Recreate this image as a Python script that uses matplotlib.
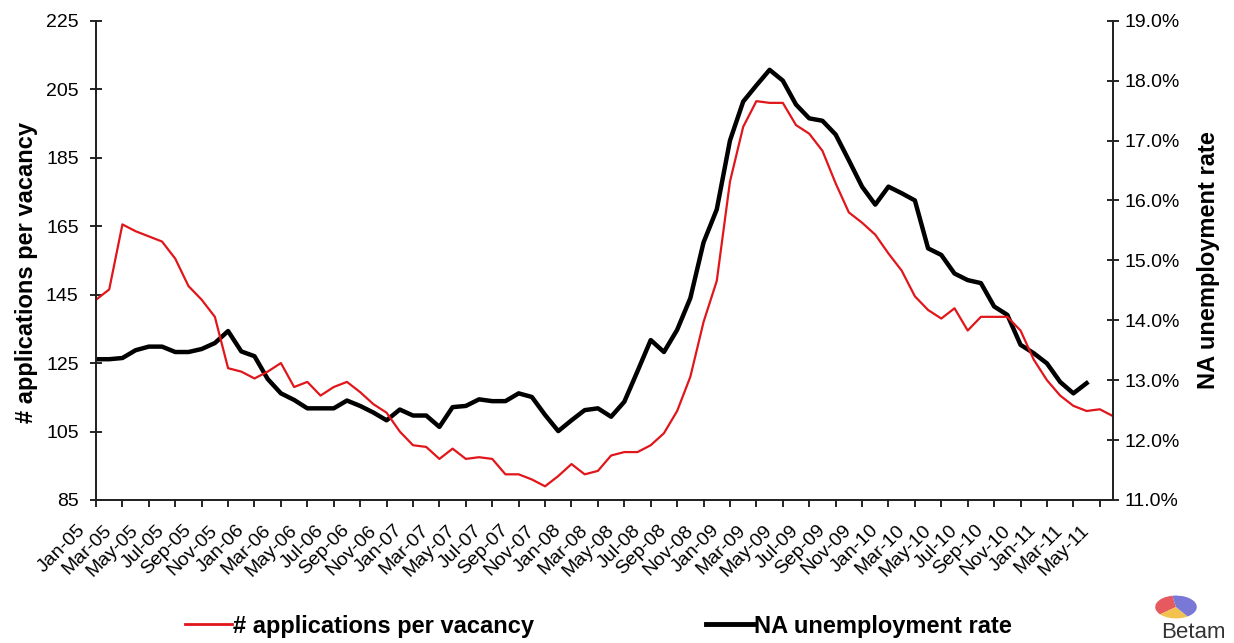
import matplotlib
matplotlib.use("Agg")
import matplotlib.pyplot as plt
import matplotlib.ticker as mticker
import matplotlib.transforms as mtransforms
from matplotlib.lines import Line2D

# ── Data (monthly Jan-05 .. Jun-11) ──────────────────────────────────────────

months = ["Jan", "Feb", "Mar", "Apr", "May", "Jun",
          "Jul", "Aug", "Sep", "Oct", "Nov", "Dec"]
month_labels = [f"{m}-{y:02d}" for y in range(5, 12) for m in months][:78]

applications = [
    143.5, 146.5, 165.5, 163.5, 162.0, 160.5, 155.5, 147.5, 143.5, 138.5,
    123.5, 122.5, 120.5, 122.5, 125.0, 118.0, 119.5, 115.5, 118.0, 119.5,
    116.5, 113.0, 110.5, 105.0, 101.0, 100.5, 97.0, 100.0, 97.0, 97.5,
    97.0, 92.5, 92.5, 91.0, 89.0, 92.0, 95.5, 92.5, 93.5, 98.0,
    99.0, 99.0, 101.0, 104.5, 111.0, 121.0, 137.0, 149.0, 178.0, 194.0,
    201.5, 201.0, 201.0, 194.5, 192.0, 187.0, 177.5, 169.0, 166.0, 162.5,
    157.0, 152.0, 144.5, 140.5, 138.0, 141.0, 134.5, 138.5, 138.5, 138.5,
    134.5, 126.0, 120.0, 115.5, 112.5, 111.0, 111.5, 109.5,
]

unemployment = [
    13.35, 13.35, 13.37, 13.50, 13.56, 13.56, 13.47, 13.47, 13.52, 13.62,
    13.82, 13.48, 13.40, 13.02, 12.78, 12.67, 12.53, 12.53, 12.53, 12.66,
    12.57, 12.46, 12.33, 12.51, 12.41, 12.41, 12.22, 12.55, 12.57, 12.68,
    12.65, 12.65, 12.78, 12.72, 12.42, 12.15, 12.33, 12.50, 12.53, 12.39,
    12.64, 13.15, 13.67, 13.47, 13.84, 14.37, 15.30, 15.85, 17.00, 17.65,
    17.92, 18.18, 18.00, 17.60, 17.37, 17.33, 17.10, 16.67, 16.23, 15.93,
    16.23, 16.12, 16.00, 15.20, 15.09, 14.78, 14.67, 14.62, 14.23, 14.09,
    13.59, 13.45, 13.28, 12.97, 12.78, 12.95,
]

left_ticks = [85, 105, 125, 145, 165, 185, 205, 225]
right_ticks = [11, 12, 13, 14, 15, 16, 17, 18, 19]

logo_shares = [1.0, 0.7, 1.3]
logo_colors = ["#e65a5f", "#f2c14e", "#7a78d6"]

# ── Figure ───────────────────────────────────────────────────────────────────

plt.rcParams["font.family"] = ["Liberation Sans", "DejaVu Sans"]
FS = 14
LFS = 17

fig = plt.figure(figsize=(12.34, 6.43), dpi=100)
W, H = 1234, 643
ax = fig.add_axes([96 / W, 1 - 500 / H, (1113 - 96) / W, (500 - 20.7) / H])
ax2 = ax.twinx()

x_red = list(range(len(applications)))
x_blk = list(range(len(unemployment)))

ax2.plot(x_blk, unemployment, color="black", lw=3.2, solid_joinstyle="round")
ax.plot(x_red, applications, color="#e0161b", lw=1.6)
ax.set_zorder(ax2.get_zorder() + 1)
ax.patch.set_visible(False)

ax.set_xlim(0, 77)
ax.set_ylim(85, 225)
ax2.set_ylim(11, 19)
ax.set_yticks(left_ticks)
ax2.set_yticks(right_ticks)
ax2.yaxis.set_major_formatter(mticker.FuncFormatter(lambda v, _: f"{v:.1f}%"))

ax.set_xticks(range(0, 77, 2))
ax.set_xticklabels(month_labels[0:77:2], rotation=45, ha="right", va="center",
                   rotation_mode="anchor", fontsize=FS)
ax.tick_params(axis="x", direction="out", length=5, width=1.2, pad=15)
shift = mtransforms.ScaledTranslation(-13 / 100, 0, fig.dpi_scale_trans)
for lbl in ax.get_xticklabels():
    lbl.set_transform(lbl.get_transform() + shift)

ax.tick_params(axis="y", direction="inout", length=9, width=1.2,
               labelsize=FS, pad=8)
ax2.tick_params(axis="y", direction="inout", length=9, width=1.2,
                labelsize=FS, pad=4)

for a in (ax, ax2):
    a.spines["top"].set_visible(False)
    for s in ("left", "right", "bottom"):
        a.spines[s].set_linewidth(1.3)
        a.spines[s].set_color("#222222")

fig.text(27 / W, 1 - 272 / H, "# applications per vacancy", rotation=90,
         ha="center", va="center", fontsize=LFS, fontweight="bold")
fig.text(1208 / W, 1 - 260 / H, "NA unemployment rate", rotation=90,
         ha="center", va="center", fontsize=LFS, fontweight="bold")

# ── Legend (two separate entries at the bottom) ──────────────────────────────

for x0, color, lw, label in [(185, "#e0161b", 2.0, "# applications per vacancy"),
                             (706, "black", 3.5, "NA unemployment rate")]:
    fig.legend(handles=[Line2D([], [], color=color, lw=lw)], labels=[label],
               loc="center left", bbox_to_anchor=(x0 / W, 1 - 626 / H),
               frameon=False, borderaxespad=0, borderpad=0,
               handlelength=2.0, handletextpad=0.05,
               prop={"weight": "bold", "size": LFS})

# ── Betam logo ───────────────────────────────────────────────────────────────

lax = fig.add_axes([1150 / W, 1 - 628 / H, 52 / W, 42 / H])
lax.pie(logo_shares, colors=logo_colors, startangle=100)
lax.set_aspect(0.55)
fig.text(1193 / W, 1 - 633 / H, "Betam", ha="center", va="center",
         fontsize=16, color="#333333")

fig.savefig("out.png", dpi=100)
